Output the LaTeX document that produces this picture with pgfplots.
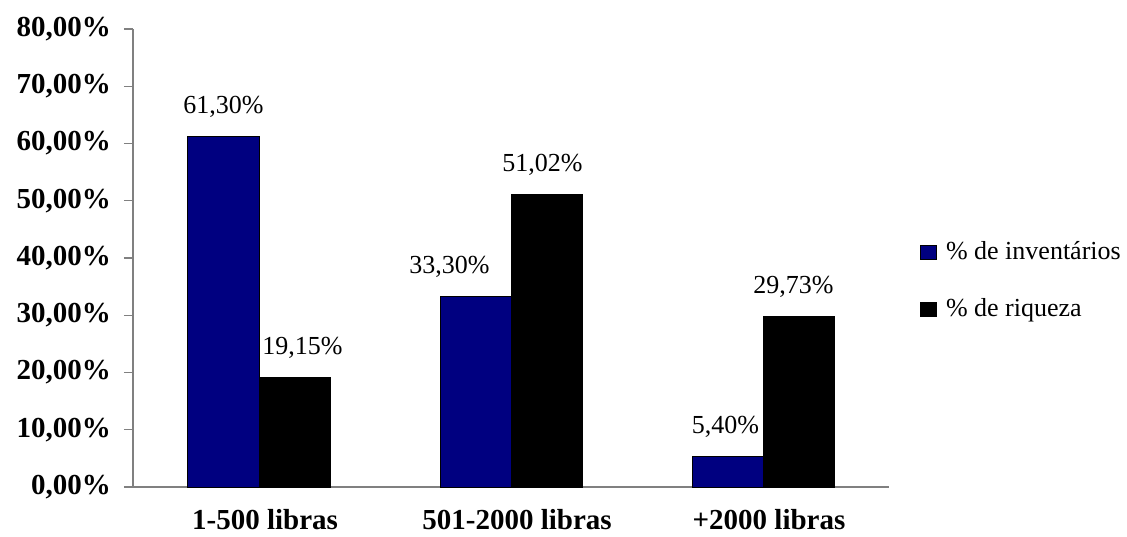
\documentclass[border=0pt]{standalone}
\usepackage{pgfplots}
\pgfplotsset{compat=1.18}
\usepackage{fontspec}
\setmainfont{Liberation Serif}
\definecolor{navy}{HTML}{000080}
\definecolor{axisgray}{HTML}{808080}

\begin{document}
\begin{tikzpicture}
\useasboundingbox (-66.5pt,-24.5pt) rectangle (497pt,243.5pt);
\begin{axis}[
    scale only axis,
    width=378pt, height=229pt,
    xmin=-0.5, xmax=2.5,
    ymin=0, ymax=80,
    ybar=0pt,
    bar width=35.5pt,
    axis x line*=bottom,
    axis y line*=left,
    axis line style={axisgray, line width=0.6pt},
    xtick={0,1,2},
    xticklabels={1-500 libras, 501-2000 libras, +2000 libras},
    x tick label style={font=\fontsize{14.5}{16}\selectfont\bfseries, yshift=-3pt, xshift=3pt},
    major x tick style={draw=none},
    ytick={0,10,...,80},
    yticklabels={{0,00\%},{10,00\%},{20,00\%},{30,00\%},{40,00\%},{50,00\%},{60,00\%},{70,00\%},{80,00\%}},
    y tick label style={font=\fontsize{14.5}{16}\selectfont\bfseries, xshift=-3pt},
    y tick style={axisgray, line width=0.6pt},
    tick align=outside,
    major tick length=4.5pt,
    nodes near coords={\pgfmathprintnumber[fixed,fixed zerofill,precision=2,use comma,assume math mode=true]{\pgfplotspointmeta}\%},
    every node near coord/.append style={font=\fontsize{13}{15}\selectfont, anchor=base, yshift=11.5pt, black},
    legend style={at={(1.04,0.45)}, anchor=west, draw=none, fill=none, inner sep=0pt,
        font=\fontsize{13}{15}\selectfont, row sep=14pt},
    legend cell align=left,
    legend image code/.code={\draw[#1, draw=black, line width=0.4pt] (0pt,-3.5pt) rectangle (8pt,3.5pt);
        \path[draw=none, fill=none] (0pt,0pt) -- (11pt,0pt);},
]
\addplot[fill=navy, draw=black, line width=0.5pt,
    visualization depends on={\thisrow{dx} \as \dx},
    every node near coord/.append style={xshift=\dx pt}] table {
x y dx
0 61.30 0
1 33.30 -13
2 5.40 -1
};
\addplot[fill=black, draw=black, line width=0.5pt,
    visualization depends on={\thisrow{dx} \as \dx},
    every node near coord/.append style={xshift=\dx pt}] table {
x y dx
0 19.15 4
1 51.02 -2
2 29.73 -2.5
};
\legend{\% de inventários, \% de riqueza}
\end{axis}
\end{tikzpicture}
\end{document}
